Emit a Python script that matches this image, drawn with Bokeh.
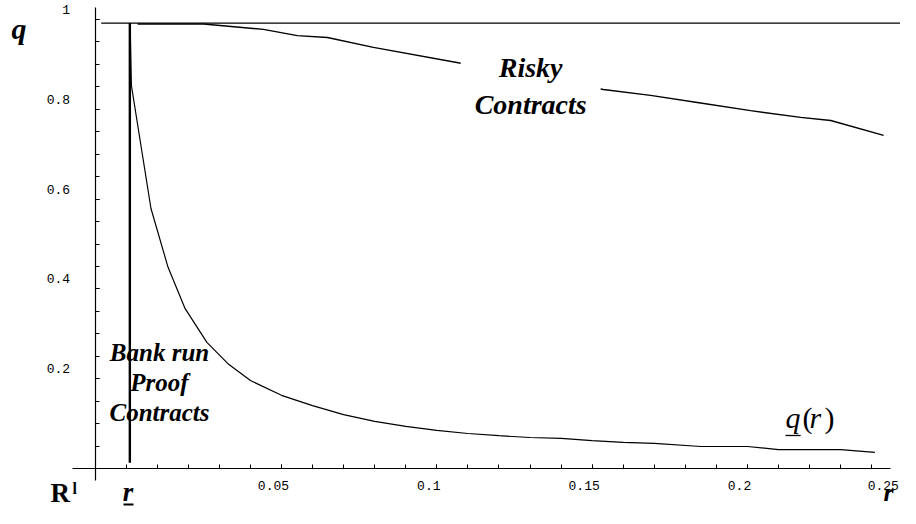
from bokeh.plotting import figure
from bokeh.models import FixedTicker, Label, Range1d
from bokeh.embed import file_html
from bokeh.resources import INLINE

# ---- data ----
# lower curve q(r) : bank-run-proof boundary
low_r = [0.0013, 0.0017, 0.008, 0.0135, 0.019, 0.026, 0.033, 0.04, 0.05, 0.06, 0.07, 0.08,
         0.09, 0.10, 0.11, 0.12, 0.13, 0.14, 0.15, 0.16, 0.17, 0.185, 0.20, 0.21, 0.23, 0.241]
low_q = [0.992, 0.853, 0.579, 0.448, 0.356, 0.281, 0.232, 0.196, 0.163, 0.140, 0.120, 0.105,
         0.094, 0.085, 0.078, 0.073, 0.069, 0.067, 0.062, 0.058, 0.056, 0.049, 0.049, 0.042, 0.042, 0.036]

# upper curve : risky contracts
up_r = [0.0037, 0.0249, 0.0442, 0.0551, 0.0648, 0.0796, 0.1082, 0.1536, 0.1688, 0.1849,
        0.2010, 0.2171, 0.2268, 0.2438]
up_q = [0.990, 0.990, 0.978, 0.964, 0.960, 0.938, 0.902, 0.844, 0.831, 0.814,
        0.797, 0.782, 0.775, 0.742]

# horizontal bound line near q = 1 and vertical line at r underline
top_r = [-0.008, 0.26]
top_q = [0.992, 0.992]
vert_r = [0.0012, 0.0012]
vert_q = [0.013, 0.992]

x_major = [0.05, 0.1, 0.15, 0.2, 0.25]
x_tick_labels = ["0.05", "0.1", "0.15", "0.2", "0.25"]
x_minor = [round(0.01 * i, 2) for i in range(0, 25)]
y_major = [0.2, 0.4, 0.6, 0.8, 1.0]
y_tick_labels = ["0.2", "0.4", "0.6", "0.8", "1"]
y_minor = [round(0.05 * i, 2) for i in range(1, 21)]

p = figure(width=900, height=508, x_range=Range1d(-0.04043, 0.24924),
           y_range=Range1d(-0.08909, 1.04232), output_backend="svg",
           toolbar_location=None, min_border=0)
p.xgrid.visible = False
p.ygrid.visible = False
p.outline_line_color = None
p.background_fill_color = "white"
p.border_fill_color = "white"

for ax in (p.xaxis[0], p.yaxis[0]):
    ax.axis_line_color = "black"
    ax.axis_line_width = 1.2
    ax.major_tick_in = 4
    ax.major_tick_out = 0
    ax.minor_tick_in = 4
    ax.minor_tick_out = 0
    ax.major_tick_line_color = "black"
    ax.minor_tick_line_color = "black"
    ax.major_label_text_color = None

p.xaxis.fixed_location = 0
p.yaxis.fixed_location = -0.01
p.xaxis.bounds = (-0.01725, 0.2460)
p.yaxis.bounds = (-0.0267, 1.0267)
p.xaxis.ticker = FixedTicker(ticks=x_major[:-1], minor_ticks=x_minor)
p.yaxis.ticker = FixedTicker(ticks=y_major, minor_ticks=y_minor)

p.line(top_r, top_q, line_color="black", line_width=1.2)
p.line(up_r, up_q, line_color="black", line_width=1.4)
p.line(low_r, low_q, line_color="black", line_width=1.2)
p.line(vert_r, vert_q, line_color="black", line_width=2.4)

mono = "Liberation Mono"
serif = "Liberation Serif"

# tick labels (drawn slightly offset from their ticks, as in the original)
for v, t in zip(x_major, x_tick_labels):
    last = v == x_major[-1]
    p.add_layout(Label(x=v, y=0, text=t, text_font=mono, text_font_size="13px",
                       text_align="right" if last else "center", text_baseline="top",
                       x_offset=-4 if last else -8, y_offset=-13, text_color="black"))
for v, t in zip(y_major, y_tick_labels):
    p.add_layout(Label(x=-0.01, y=v, text=t, text_font=mono, text_font_size="13px",
                       text_align="right", text_baseline="middle",
                       x_offset=-25, y_offset=10, text_color="black"))


def lab(x, y, text, size, style="bold italic", align="left", baseline="middle", **kw):
    l = Label(x=x, y=y, text=text, text_font=serif, text_font_size=size,
              text_font_style=style, text_align=align, text_baseline=baseline,
              text_color="black", **kw)
    p.add_layout(l)
    return l

# axis titles
lab(-0.03447, 0.980, "q", "30px", align="center")
lab(-0.02433, -0.0555, "R", "27px", style="bold")
lab(-0.01725, -0.0437, "l", "16px", style="bold")
lab(0.0006, -0.0532, "r", "27px", align="center")
lab(0.2454, -0.0540, "r", "26px", align="center")

# region labels
lab(0.1302, 0.8519, "Risky\nContracts", "28px", align="center",
    background_fill_color="white", padding=14, text_line_height=1.2)
lab(0.01075, 0.1915, "Bank run\nProof\nContracts", "25px", align="center",
    text_line_height=1.1)

# q(r) label: italic letters, upright parentheses
lab(0.21223, 0.1138, "q", "30px", style="italic")
lab(0.21770, 0.1138, "(", "30px", style="normal")
lab(0.21995, 0.1138, "r", "30px", style="italic")
lab(0.22478, 0.1138, ")", "30px", style="normal")

# underlines of the underlined letters
p.line([-0.00084, 0.00238], [-0.0802, -0.0802], line_color="black", line_width=2)
p.line([0.2122, 0.2171], [0.0735, 0.0735], line_color="black", line_width=1.3)

open("out.html", "w").write(file_html(p, INLINE))
